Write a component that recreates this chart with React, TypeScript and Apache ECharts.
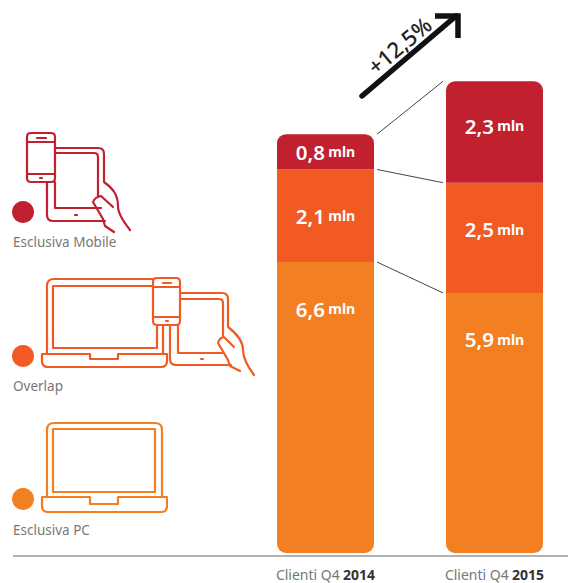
import React, { useEffect, useRef } from "react";
import * as echarts from "echarts";

const quarters = ["2014", "2015"];
const pcOnly = [6.6, 5.9];
const overlap = [2.1, 2.5];
const mobileOnly = [0.8, 2.3];
const totals = [9.5, 10.7];
const growthLabel = "+12,5%";
const legendNames = ["Esclusiva Mobile", "Overlap", "Esclusiva PC"];

const RED = "#c1202f";
const DEEP_ORANGE = "#f15a22";
const ORANGE = "#f28023";
const FONT = '"Noto Sans", "Open Sans", sans-serif';
const BAR_WIDTH = 97;
const CORNER = 9;

const phonePath = (x: number, y: number, w: number, h: number) =>
  `M${x + 4},${y}H${x + w - 4}Q${x + w},${y} ${x + w},${y + 4}V${y + h - 4}Q${x + w},${y + h} ${x + w - 4},${y + h}H${x + 4}Q${x},${y + h} ${x},${y + h - 4}V${y + 4}Q${x},${y} ${x + 4},${y}Z` +
  `M${x},${y + 9}H${x + w}M${x},${y + h - 8}H${x + w}M${x + 10},${y + 5}H${x + w - 9}M${x + 13},${y + h - 4}h2`;

const mobileIcon =
  phonePath(27, 133, 28, 49) +
  "M55,148H98Q104,148 104,154V182" +
  "M55,153H94Q98,153 98,157V196" +
  "M47,182V215Q47,221 53,221H105" +
  "M55,182V208H101" +
  "M75,215h2" +
  "M104,182C112,188 118,194 118,206C118,214 124,222 130,230" +
  "M93,202Q95,197 101,196L113,207" +
  "M93,202L103,219L105,226L114,232";

const overlapIcon =
  phonePath(153, 278, 27, 47) +
  "M153,279H54Q47,279 47,286V354" +
  "M153,286H53V348H155" +
  "M157,325V348M163,325V354" +
  "M42,354H90V359H118V354H167V361Q167,367 161,367H48Q42,367 42,361Z" +
  "M180,293H222Q228,293 228,299V327" +
  "M180,299H219Q223,299 223,303V336" +
  "M170,325V359Q170,365 176,365H231" +
  "M178,325V353H222" +
  "M201,359h2" +
  "M228,327C236,333 243,340 243,350C243,358 248,367 254,375" +
  "M218,343Q219,338 224,337L234,347" +
  "M218,343L228,360L230,366L240,371";

const pcIcon =
  "M47,497V430Q47,423 54,423H155Q162,423 162,430V497" +
  "M53,429H155V492H53Z" +
  "M42,497H90V504H118V497H167V506Q167,512 161,512H48Q42,512 42,506Z";

echarts.graphic.registerShape("iconMobile", echarts.graphic.extendPath(mobileIcon, {}));
echarts.graphic.registerShape("iconOverlap", echarts.graphic.extendPath(overlapIcon, {}));
echarts.graphic.registerShape("iconPc", echarts.graphic.extendPath(pcIcon, {}));

const segmentLabel = (value: number, distance: number) => ({
  show: true,
  position: "insideTop",
  distance,
  formatter: `{v|${value.toFixed(1).replace(".", ",")}} {u|mln}`,
  rich: {
    v: { fontFamily: FONT, fontSize: 20.5, fontWeight: 600, color: "#fff" },
    u: { fontFamily: FONT, fontSize: 14, fontWeight: 700, color: "#fff" },
  },
});

const stackSeries = (
  name: string,
  values: number[],
  color: string,
  radius: number[],
  distanceFor: (v: number) => number,
) => ({
  name,
  type: "bar",
  stack: "clients",
  barWidth: BAR_WIDTH,
  itemStyle: { color, borderRadius: radius },
  data: values.map((v) => ({ value: v, label: segmentLabel(v, distanceFor(v)) })),
});

// Boundaries between segments, joined across the two columns by thin rules.
const boundaries = [
  [pcOnly[0], pcOnly[1]],
  [pcOnly[0] + overlap[0], pcOnly[1] + overlap[1]],
  [totals[0], totals[1]],
];

const legendText = (text: string, y: number) => ({
  type: "text",
  x: 13,
  y,
  style: { text, fontFamily: FONT, fontSize: 13.5, fill: "#777", textVerticalAlign: "middle" },
});

const dot = (cy: number, fill: string) => ({
  type: "circle",
  shape: { cx: 23, cy, r: 11 },
  style: { fill },
});

const icon = (type: string, stroke: string) => ({
  type,
  style: { fill: "none", stroke, lineWidth: 2.2, lineCap: "round", lineJoin: "round" },
});

export default function App() {
  const ref = useRef<HTMLDivElement>(null);
  useEffect(() => {
    const chart = echarts.init(ref.current!, undefined, { renderer: "svg" });
    chart.setOption({
      animation: false,
      backgroundColor: "#fff",
      grid: { left: 241, width: 338, top: 24, height: 529, outerBoundsMode: "none" },
      xAxis: {
        type: "category",
        data: quarters,
        axisLine: { show: false },
        axisTick: { show: false },
        axisLabel: {
          margin: 14,
          formatter: (q: string) => `{a|Clienti Q4} {b|${q}}`,
          rich: {
            a: { fontFamily: FONT, fontSize: 14, color: "#777" },
            b: { fontFamily: FONT, fontSize: 14, fontWeight: 700, color: "#333" },
          },
        },
      },
      yAxis: { type: "value", min: 0, max: 12, show: false },
      series: [
        stackSeries(legendNames[2], pcOnly, ORANGE, [0, 0, CORNER, CORNER], () => 36),
        stackSeries(legendNames[1], overlap, DEEP_ORANGE, [0, 0, 0, 0], () => 36),
        stackSeries(legendNames[0], mobileOnly, RED, [CORNER, CORNER, 0, 0], (v) => (v < 1 ? 7 : 34)),
        {
          type: "line",
          data: totals,
          symbol: "none",
          lineStyle: { opacity: 0 },
          label: {
            show: true,
            position: "top",
            distance: 4,
            formatter: (p: any) => `{v|${p.value.toFixed(1).replace(".", ",")}} {u|mln}`,
            rich: {
              v: { fontFamily: FONT, fontSize: 21, fontWeight: 600, color: "#222" },
              u: { fontFamily: FONT, fontSize: 14, fontWeight: 700, color: "#222" },
            },
          },
        },
        {
          type: "custom",
          data: boundaries,
          clip: false,
          silent: true,
          encode: { y: [0, 1] },
          renderItem: (_: any, api: any) => {
            const a = api.coord([0, api.value(0)]);
            const b = api.coord([1, api.value(1)]);
            return {
              type: "line",
              shape: { x1: a[0] + BAR_WIDTH / 2 + 3, y1: a[1], x2: b[0] - BAR_WIDTH / 2 - 3, y2: b[1] },
              style: { stroke: "#444", lineWidth: 1 },
            };
          },
        },
      ],
      graphic: [
        { type: "line", shape: { x1: 13, y1: 556, x2: 568, y2: 556 }, style: { stroke: "#666", lineWidth: 1 } },
        icon("iconMobile", RED),
        icon("iconOverlap", DEEP_ORANGE),
        icon("iconPc", ORANGE),
        dot(212, RED),
        dot(356, DEEP_ORANGE),
        dot(499, ORANGE),
        legendText(legendNames[0], 242),
        legendText(legendNames[1], 386),
        legendText(legendNames[2], 530),
        {
          type: "polyline",
          shape: { points: [[362, 96], [456, 16]] },
          style: { stroke: "#111", lineWidth: 5.5, fill: "none", lineCap: "round" },
        },
        {
          type: "polyline",
          shape: { points: [[435, 16], [458, 16], [458, 38]] },
          style: { stroke: "#111", lineWidth: 5.5, fill: "none", lineJoin: "miter" },
        },
        {
          type: "text",
          x: 399,
          y: 45,
          rotation: (40 * Math.PI) / 180,
          style: {
            text: growthLabel,
            fontFamily: FONT,
            fontSize: 22,
            fontWeight: 500,
            fill: "#222",
            textAlign: "center",
            textVerticalAlign: "middle",
          },
        },
      ],
    });
    return () => chart.dispose();
  }, []);
  return (
    <div
      ref={ref}
      style={{ position: "absolute", left: 0, top: 0, width: 568, height: 583 }}
    />
  );
}
